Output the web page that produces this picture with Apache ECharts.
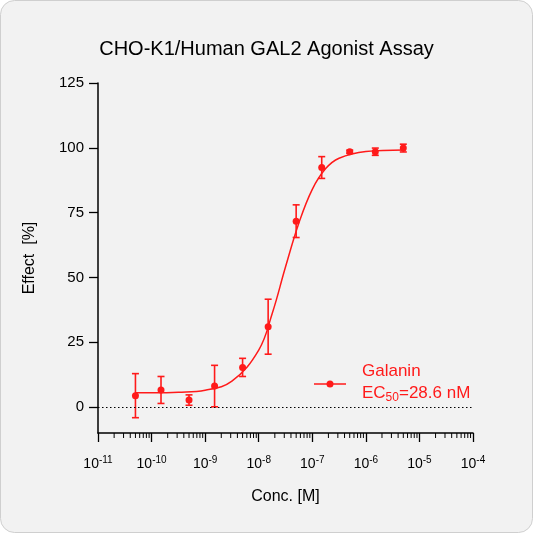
<!DOCTYPE html>
<html>
<head>
<meta charset="utf-8">
<script src="https://cdn.jsdelivr.net/npm/echarts@6/dist/echarts.min.js"></script>
<style>
  html, body { margin: 0; padding: 0; background: #fff; }
  #main { width: 533px; height: 533px; }
</style>
</head>
<body>
<div id="main"></div>
<script>
// measured points (conc in M, effect %, sem)
const conc = [5e-11, 1.5e-10, 5e-10, 1.5e-9, 5e-9, 1.5e-8, 5e-8, 1.5e-7, 5e-7, 1.5e-6, 5e-6];
const effect = [4.4, 6.6, 2.7, 8.1, 15.3, 31, 71.7, 92.4, 98.5, 98.5, 99.9];
const errs = [8.5, 5.2, 2, 8, 3.5, 10.6, 6.3, 4.2, 0.6, 1.4, 1.5];

// fitted curve
const curveX = [5e-11, 1e-10, 3.16e-10, 1e-9, 3.16e-9, 1e-8, 1.78e-8, 3.16e-8, 5.62e-8, 1e-7, 1.78e-7, 3.16e-7, 1e-6, 5e-6];
const curveY = [5.5, 5.5, 5.7, 6.5, 10, 22, 36, 54, 71, 84, 92, 96, 98.6, 99.2];

const yTicks = [0, 25, 50, 75, 100, 125];
const decades = [-11, -10, -9, -8, -7, -6, -5];
const minorTicks = [];
decades.forEach(d => { for (let m = 2; m <= 9; m++) minorTicks.push(m * Math.pow(10, d)); });
const red = "#ff1a1a";
const font = "Liberation Sans";

const pts = conc.map((c, i) => [c, effect[i]]);
const bars = conc.map((c, i) => [c, effect[i] - errs[i], effect[i] + errs[i]]);

let chart = echarts.init(document.getElementById("main"));
chart.setOption({
  backgroundColor: "#fff",
  graphic: [
    { type: "rect", shape: { x: 0.5, y: 0.5, width: 532, height: 532, r: 14 }, style: { fill: "#f2f2f2", stroke: "#cfcfcf" }, z: -10 },
    { type: "line", shape: { x1: 314, y1: 384, x2: 346, y2: 384 }, style: { stroke: red, lineWidth: 1.5 } },
    { type: "circle", shape: { cx: 330, cy: 384, r: 3.5 }, style: { fill: red } },
    {
      type: "text", left: 362, top: 360,
      style: {
        text: "{n|Galanin}\n{n|EC}{s|50}{n|=28.6 nM}",
        fill: red, fontSize: 17, fontFamily: font, lineHeight: 22,
        rich: {
          n: { fontSize: 17, fill: red, fontFamily: font, lineHeight: 22 },
          s: { fontSize: 12, fill: red, verticalAlign: "bottom", padding: [7, 0, 0, 0], fontFamily: font }
        }
      }
    }
  ],
  title: {
    text: "CHO-K1/Human GAL2 Agonist Assay",
    left: "center", top: 34,
    textStyle: { fontSize: 20, fontWeight: "normal", color: "#000", fontFamily: font }
  },
  grid: { left: 98, right: 60, top: 83, bottom: 100 },
  xAxis: {
    type: "log", logBase: 10, min: 1e-11, max: 1e-4,
    name: "Conc. [M]", nameLocation: "middle", nameGap: 56,
    nameTextStyle: { fontSize: 16, color: "#000", fontFamily: font },
    axisLine: { onZero: false, lineStyle: { color: "#000", width: 1.5 } },
    axisTick: { length: 9, lineStyle: { color: "#000", width: 1.3 } },
    splitLine: { show: false },
    axisLabel: {
      color: "#000", fontSize: 14, margin: 22, fontFamily: font,
      formatter: v => "{b|10}{s|" + Math.round(Math.log10(v)) + "}",
      rich: {
        b: { fontSize: 14, color: "#000", fontFamily: font },
        s: { fontSize: 10, color: "#000", verticalAlign: "top", padding: [0, 0, 9, 0], fontFamily: font }
      }
    }
  },
  yAxis: {
    type: "value", min: -10, max: 125,
    name: "Effect  [%]", nameLocation: "middle", nameGap: 60,
    nameTextStyle: { fontSize: 16, color: "#000", fontFamily: font },
    axisLine: { lineStyle: { color: "#000", width: 1.5 } },
    axisTick: { show: true, length: 9, customValues: yTicks, lineStyle: { color: "#000", width: 1.3 } },
    axisLabel: { color: "#000", fontSize: 15, margin: 14, customValues: yTicks, fontFamily: font },
    splitLine: { show: false }
  },
  series: [
    {
      // minor log ticks on the x axis
      type: "custom", data: minorTicks.map(v => [v, -10]), silent: true, clip: false,
      renderItem: (params, api) => {
        const p = api.coord([api.value(0), api.value(1)]);
        return { type: "line", shape: { x1: p[0], y1: p[1], x2: p[0], y2: p[1] + 5 }, style: { stroke: "#000", lineWidth: 1 } };
      }
    },
    {
      type: "line", data: curveX.map((c, i) => [c, curveY[i]]), smooth: 0.4,
      showSymbol: false, lineStyle: { color: red, width: 1.5 }, z: 2,
      markLine: {
        silent: true, symbol: "none", label: { show: false },
        lineStyle: { color: "#000", type: [1.5, 2.5], width: 1 },
        data: [{ yAxis: 0 }]
      }
    },
    {
      type: "custom", data: bars, z: 3,
      renderItem: (params, api) => {
        const lo = api.coord([api.value(0), api.value(1)]);
        const hi = api.coord([api.value(0), api.value(2)]);
        const w = 3.5;
        const st = { stroke: red, lineWidth: 1.6 };
        return {
          type: "group", children: [
            { type: "line", shape: { x1: lo[0], y1: lo[1], x2: hi[0], y2: hi[1] }, style: st },
            { type: "line", shape: { x1: lo[0] - w, y1: lo[1], x2: lo[0] + w, y2: lo[1] }, style: st },
            { type: "line", shape: { x1: hi[0] - w, y1: hi[1], x2: hi[0] + w, y2: hi[1] }, style: st }
          ]
        };
      }
    },
    {
      type: "scatter", data: pts, symbolSize: 7, itemStyle: { color: red, opacity: 1 }, z: 4
    }
  ]
});
</script>
</body>
</html>
